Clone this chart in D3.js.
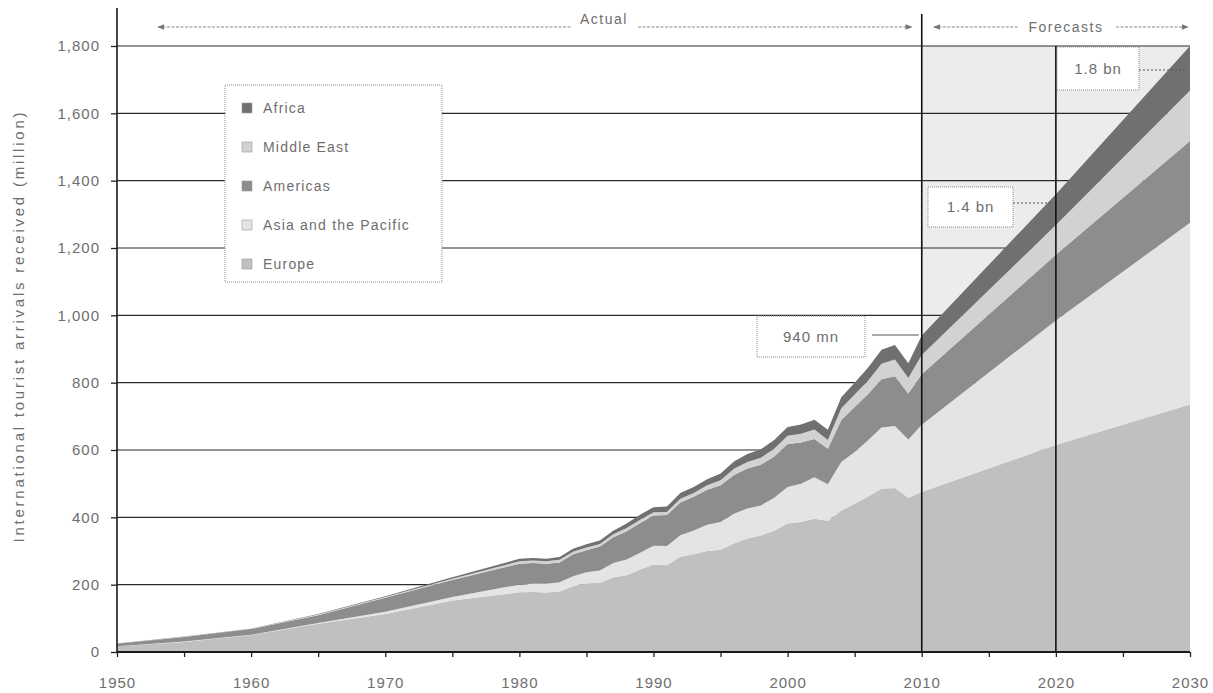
<!DOCTYPE html>
<html>
<head>
<meta charset="utf-8">
<script src="https://cdn.jsdelivr.net/npm/d3@7"></script>
<style>
  html, body { margin: 0; padding: 0; background: #fff; }
  svg text { font-family: "Liberation Sans", Arial, sans-serif; fill: #6e6e6e; }
</style>
</head>
<body>
<div id="chart"></div>
<script>
// international tourist arrivals, million (actual 1950-2010, forecast to 2030)
const years      = [1950, 1955, 1960, 1965, 1970, 1975, 1980, 1981, 1982, 1983, 1984, 1985, 1986, 1987, 1988, 1989,
                    1990, 1991, 1992, 1993, 1994, 1995, 1996, 1997, 1998, 1999, 2000, 2001, 2002, 2003, 2004, 2005,
                    2006, 2007, 2008, 2009, 2010, 2020, 2030];
const europe     = [16.8, 30, 50.4, 83.7, 113, 153.3, 177.3, 178, 177, 180, 195, 204.3, 205, 222, 228, 245,
                    260, 258, 283, 290, 300, 304, 322, 337, 346, 360, 382, 386, 396, 390, 420, 440,
                    462, 485, 487, 458, 475, 615, 735];
const asiaPacific= [0.2, 0.9, 0.9, 2.1, 6.2, 10.2, 22.8, 25, 26, 27, 30, 32.9, 37, 42, 47, 50,
                    55.8, 57, 64, 71, 78, 82, 89, 89, 89, 98, 108, 114, 123, 108, 144, 154,
                    167, 182, 184, 173, 200, 370, 540];
const americas   = [7.5, 13.3, 16.7, 23.2, 42.3, 50, 62.3, 61, 59, 59, 65, 65.1, 71, 77, 84, 88,
                    90, 92, 97, 100, 104, 109, 115, 119, 121, 123, 128, 122, 114, 106, 125, 134,
                    137, 143, 148, 137, 150, 195, 243];
const middleEast = [0.2, 0.8, 0.6, 2.4, 1.9, 4, 7.1, 7.5, 7.5, 8, 8, 8.1, 8, 8.5, 9, 10,
                    9.6, 9, 11, 11.5, 13, 15, 18, 19, 21, 23, 24, 26, 28, 26, 35, 37,
                    40, 46, 50, 46, 57, 88, 150];
const africa     = [0.5, 1, 0.8, 1.4, 2.4, 4.7, 7.2, 7.5, 7.5, 8, 9, 9.7, 10, 10.5, 14, 15,
                    14.8, 16, 17, 17.5, 18, 20, 22, 24, 25, 26, 26, 28, 29, 30, 33, 35,
                    39, 42, 43, 44, 58, 92, 132];

const regions     = ["Europe", "Asia and the Pacific", "Americas", "Middle East", "Africa"];
const legendOrder = ["Africa", "Middle East", "Americas", "Asia and the Pacific", "Europe"];
const yTicks      = [0, 200, 400, 600, 800, 1000, 1200, 1400, 1600, 1800];
const xTicks      = [1950, 1955, 1960, 1965, 1970, 1975, 1980, 1985, 1990, 1995, 2000, 2005, 2010, 2015, 2020, 2025, 2030];
const xLabels     = [1950, 1960, 1970, 1980, 1990, 2000, 2010, 2020, 2030];
const callouts    = [
  {year: 2010, label: "940 mn"},
  {year: 2020, label: "1.4 bn"},
  {year: 2030, label: "1.8 bn"}
];
const yTitle = "International tourist arrivals received (million)";

const width = 1213, height = 693;

const colors = {
  "Europe": "#c0c0c0",
  "Asia and the Pacific": "#e4e4e4",
  "Americas": "#8d8d8d",
  "Middle East": "#d2d2d2",
  "Africa": "#707070"
};

const svg = d3.select("#chart").append("svg")
    .attr("width", width)
    .attr("height", height);

const x = d3.scaleLinear().domain([1950, 2030]).range([117, 1190]);
const y = d3.scaleLinear().domain([0, 1800]).range([652, 46]);

// stack table
const series = {"Europe": europe, "Asia and the Pacific": asiaPacific, "Americas": americas,
                "Middle East": middleEast, "Africa": africa};
const table = years.map((yr, i) => {
  const row = {year: yr};
  regions.forEach(r => row[r] = series[r][i]);
  return row;
});
const stacked = d3.stack().keys(regions)(table);

// forecast background
svg.append("rect")
    .attr("x", x(2010))
    .attr("y", y(1800))
    .attr("width", x(2030) - x(2010))
    .attr("height", y(0) - y(1800))
    .attr("fill", "#ececec");

// gridlines
svg.append("g")
  .selectAll("line")
  .data(yTicks.slice(1))
  .join("line")
    .attr("x1", x(1950))
    .attr("x2", x(2030))
    .attr("y1", d => y(d))
    .attr("y2", d => y(d))
    .attr("stroke", "#2a2a2a")
    .attr("stroke-width", 1.2);

// stacked areas
const area = d3.area()
    .x(d => x(d.data.year))
    .y0(d => y(d[0]))
    .y1(d => y(d[1]));

svg.append("g")
  .selectAll("path")
  .data(stacked)
  .join("path")
    .attr("d", area)
    .attr("fill", d => colors[d.key]);

// 2010 and 2020 vertical markers
svg.append("line")
    .attr("x1", x(2010)).attr("x2", x(2010))
    .attr("y1", 14).attr("y2", y(0))
    .attr("stroke", "#111").attr("stroke-width", 1.6);
svg.append("line")
    .attr("x1", x(2020)).attr("x2", x(2020))
    .attr("y1", y(1800)).attr("y2", y(0))
    .attr("stroke", "#111").attr("stroke-width", 1.6);

// axes
const xAxis = svg.append("g")
    .attr("transform", `translate(0,${y(0)})`)
    .call(d3.axisBottom(x)
      .tickValues(xTicks)
      .tickSize(5)
      .tickPadding(20)
      .tickFormat(d => xLabels.includes(d) ? d : ""));

const yAxis = svg.append("g")
    .attr("transform", `translate(${x(1950)},0)`)
    .call(d3.axisLeft(y)
      .tickValues(yTicks)
      .tickSize(6)
      .tickPadding(11)
      .tickFormat(d3.format(",")));

[xAxis, yAxis].forEach(g => {
  g.select(".domain").remove();
  g.selectAll(".tick line").attr("stroke", "#222").attr("stroke-width", 1.3);
  g.selectAll(".tick text")
    .attr("fill", "#777")
    .style("font-size", "15px")
    .style("letter-spacing", "1px");
});

svg.append("line")
    .attr("x1", x(1950)).attr("x2", x(2030))
    .attr("y1", y(0)).attr("y2", y(0))
    .attr("stroke", "#1a1a1a").attr("stroke-width", 2);
svg.append("line")
    .attr("x1", x(1950)).attr("x2", x(1950))
    .attr("y1", 8).attr("y2", y(0))
    .attr("stroke", "#1a1a1a").attr("stroke-width", 1.6);

// y axis title
svg.append("text")
    .attr("transform", `translate(24,${(110 + 545) / 2}) rotate(-90)`)
    .attr("text-anchor", "middle")
    .attr("textLength", 430)
    .attr("lengthAdjust", "spacing")
    .style("font-size", "15px")
    .attr("fill", "#555")
    .text(yTitle);

// legend
const legend = svg.append("g").attr("transform", "translate(225,85)");
legend.append("rect")
    .attr("width", 217).attr("height", 197)
    .attr("fill", "#fff")
    .attr("stroke", "#8a8a8a")
    .attr("stroke-dasharray", "1,1");
const item = legend.selectAll("g.item")
  .data(legendOrder)
  .join("g")
    .attr("class", "item")
    .attr("transform", (d, i) => `translate(17,${23 + i * 39})`);
item.append("rect")
    .attr("x", 0).attr("y", -5)
    .attr("width", 10).attr("height", 10)
    .attr("fill", d => colors[d])
    .attr("stroke", "#9a9a9a")
    .attr("stroke-width", 0.6);
item.append("text")
    .attr("x", 21)
    .attr("dy", "0.35em")
    .style("font-size", "14px")
    .style("letter-spacing", "1.2px")
    .text(d => d);

// actual / forecasts header
const defs = svg.append("defs");
defs.append("marker")
    .attr("id", "arr")
    .attr("viewBox", "0 0 10 10")
    .attr("refX", 9).attr("refY", 5)
    .attr("markerWidth", 7).attr("markerHeight", 7)
    .attr("orient", "auto-start-reverse")
  .append("path")
    .attr("d", "M0,1 L10,5 L0,9 z")
    .attr("fill", "#777");

function header(x0, x1, tx, label, ty, half) {
  svg.append("line")
      .attr("x1", x0).attr("x2", tx - half - 8)
      .attr("y1", 27).attr("y2", 27)
      .attr("stroke", "#888").attr("stroke-width", 1)
      .attr("stroke-dasharray", "3,1.5")
      .attr("marker-start", "url(#arr)");
  svg.append("line")
      .attr("x1", tx + half + 10).attr("x2", x1)
      .attr("y1", 27).attr("y2", 27)
      .attr("stroke", "#888").attr("stroke-width", 1)
      .attr("stroke-dasharray", "3,1.5")
      .attr("marker-end", "url(#arr)");
  svg.append("text")
      .attr("x", tx).attr("y", ty)
      .attr("text-anchor", "middle")
      .style("font-size", "14px")
      .style("letter-spacing", "1.5px")
      .text(label);
}
header(158, x(2010) - 10, 604, "Actual", 24, 24);
header(x(2010) + 12, 1188, 1066, "Forecasts", 32, 40);

// callout boxes
const boxPos = {
  "940 mn": {x: 757, y: 316, w: 108, h: 41, lx1: 872, lx2: x(2010) - 3, ly: 335, dash: null},
  "1.4 bn": {x: 928, y: 187, w: 85, h: 40, lx1: 1013, lx2: x(2020) - 4, ly: 203, dash: "2,2"},
  "1.8 bn": {x: 1057, y: 47, w: 82, h: 43, lx1: 1139, lx2: x(2030) - 4, ly: 70, dash: "2,2"}
};
callouts.forEach(c => {
  const b = boxPos[c.label];
  svg.append("line")
      .attr("x1", b.lx1).attr("x2", b.lx2)
      .attr("y1", b.ly).attr("y2", b.ly)
      .attr("stroke", "#555").attr("stroke-width", 1.2)
      .attr("stroke-dasharray", b.dash);
  svg.append("rect")
      .attr("x", b.x).attr("y", b.y)
      .attr("width", b.w).attr("height", b.h)
      .attr("fill", "#fff")
      .attr("stroke", "#8a8a8a")
      .attr("stroke-dasharray", "1,1");
  svg.append("text")
      .attr("x", b.x + b.w / 2).attr("y", b.y + b.h / 2)
      .attr("dy", "0.35em")
      .attr("text-anchor", "middle")
      .style("font-size", "15px")
      .style("letter-spacing", "1px")
      .text(c.label);
});
</script>
</body>
</html>
